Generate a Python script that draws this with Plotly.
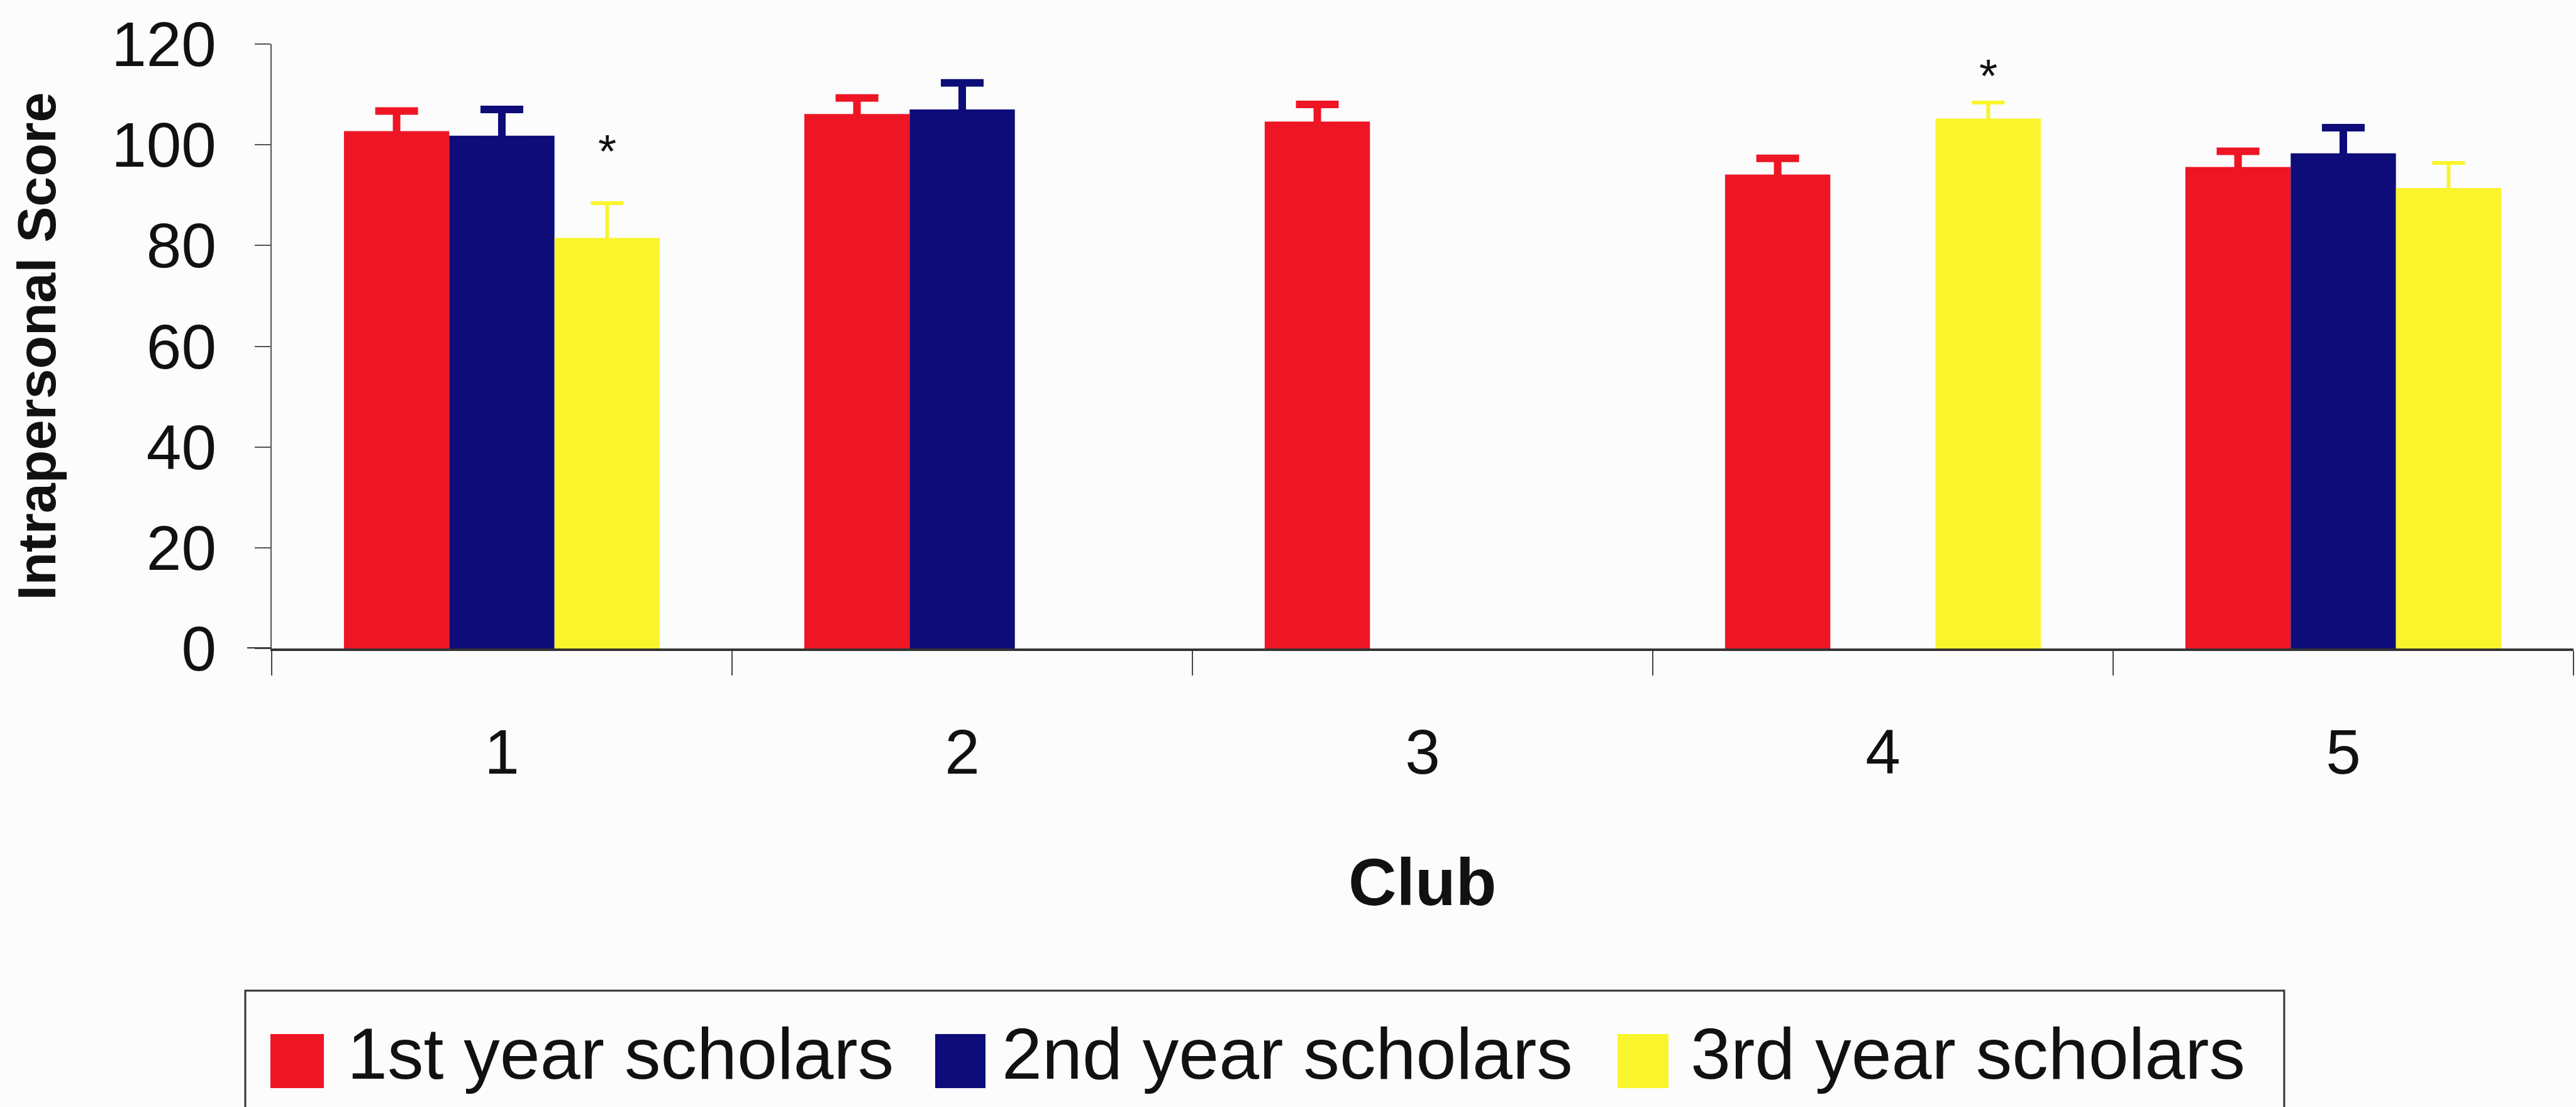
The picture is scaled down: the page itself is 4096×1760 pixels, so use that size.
import plotly.graph_objects as go

# ---------------- data ----------------
clubs = ["1", "2", "3", "4", "5"]
series_names = ["1st year scholars", "2nd year scholars", "3rd year scholars"]
first_year = [102.7, 106.1, 104.6, 94.1, 95.6]
first_year_err = [4.0, 3.2, 3.4, 3.2, 3.1]
second_year = [101.8, 107.0, None, None, 98.3]
second_year_err = [5.2, 5.3, None, None, 5.1]
third_year = [81.5, None, None, 105.2, 91.4]
third_year_err = [6.9, None, None, 3.2, 5.0]
sig_clubs = ["1", "4"]          # clubs marked with an asterisk (3rd year bar)
sig_y = [99.6, 114.6]
y_ticks = [0, 20, 40, 60, 80, 100, 120]

colors = ["#EE1524", "#0D0C78", "#F9F42C"]
err_thick = [12, 12, 6]
err_width = [34, 34, 26]
SHOE_DEPTH = 1.5   # hides the lower error-bar cap inside the bar (style only)

W, H = 4096, 1760
L, R, T, B = 432, 4, 70, 729
PW = W - L - R
PH = H - T - B
BARGAP = 0.314

def fx(px):
    return (px - L) / PW

def fy(py):
    return (H - B - py) / PH

FONT = "Liberation Sans, Arial, sans-serif"

fig = go.Figure()
vals = [first_year, second_year, third_year]
errs = [first_year_err, second_year_err, third_year_err]
for i, name in enumerate(series_names):
    fig.add_trace(go.Bar(
        x=clubs, y=vals[i], name=name,
        marker=dict(color=colors[i], line=dict(width=0)),
        error_y=dict(type="data", array=errs[i], arrayminus=[SHOE_DEPTH] * len(clubs),
                     symmetric=False, color=colors[i],
                     thickness=err_thick[i], width=err_width[i]),
        showlegend=False,
    ))

fig.update_layout(
    width=W, height=H,
    margin=dict(l=L, r=R, t=T, b=B, pad=0),
    paper_bgcolor="#FCFCFD", plot_bgcolor="#FCFCFD",
    barmode="group", bargap=BARGAP, bargroupgap=0,
    font=dict(family=FONT, color="#111111"),
    xaxis=dict(
        type="category", showgrid=False, zeroline=False,
        showline=True, linecolor="#333333", linewidth=4,
        ticks="outside", tickson="boundaries", ticklen=39, tickwidth=2,
        tickcolor="#444444", tickfont=dict(size=100, family=FONT, color="#111111"),
        ticklabelstandoff=75,
    ),
    yaxis=dict(
        range=[0, 120], tickvals=y_ticks, showgrid=False, zeroline=False,
        showline=True, linecolor="#555555", linewidth=2,
        ticks="outside", ticklen=25, tickwidth=2, tickcolor="#555555",
        tickfont=dict(size=100, family=FONT, color="#111111"),
        ticklabelstandoff=41,
    ),
)

# extension of the x axis line to the left of the y axis
fig.add_shape(type="line", xref="paper", yref="y", x0=fx(393), x1=0, y0=0, y1=0,
              line=dict(color="#333333", width=4))

# axis titles
fig.add_annotation(text="<b>Club</b>", xref="paper", yref="paper",
                   x=0.5, y=fy(1402), xanchor="center", yanchor="middle",
                   showarrow=False, font=dict(size=106, family=FONT, color="#111111"))
fig.add_annotation(text="<b>Intrapersonal Score</b>", xref="paper", yref="paper",
                   x=fx(57), y=0.5, xanchor="center", yanchor="middle", textangle=-90,
                   showarrow=False, font=dict(size=86, family=FONT, color="#111111"))

# significance asterisks over the 3rd-year bars
slot = (1 - BARGAP) / 3
for c, yv in zip(sig_clubs, sig_y):
    fig.add_annotation(text="*", xref="x", yref="y", x=clubs.index(c) + slot, y=yv,
                       xanchor="center", yanchor="middle", yshift=-7, showarrow=False,
                       font=dict(size=75, family=FONT, color="#111111"))

# custom legend (box, swatches, labels)
fig.add_shape(type="rect", xref="paper", yref="paper",
              x0=fx(390), x1=fx(3632), y0=fy(1575), y1=fy(1800),
              line=dict(color="#333333", width=3), fillcolor="rgba(0,0,0,0)")
sw_x = [(430, 515), (1487, 1567), (2572, 2653)]
tx_x = [550, 1591, 2686]
for i, name in enumerate(series_names):
    fig.add_shape(type="rect", xref="paper", yref="paper",
                  x0=fx(sw_x[i][0]), x1=fx(sw_x[i][1]), y0=fy(1644), y1=fy(1730),
                  line=dict(width=0), fillcolor=colors[i])
    fig.add_annotation(text=name, xref="paper", yref="paper", x=fx(tx_x[i]), y=fy(1675),
                       xanchor="left", yanchor="middle", showarrow=False,
                       font=dict(size=115, family=FONT, color="#111111"))

fig.write_html("out.html")
